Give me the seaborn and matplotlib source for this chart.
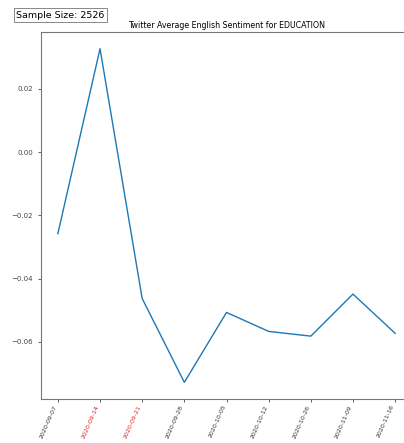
import matplotlib
matplotlib.use("Agg")
import matplotlib.pyplot as plt
import seaborn as sns
import pandas as pd

# Weekly average sentiment for the EDUCATION topic
weeks = ["2020-09-07", "2020-09-14", "2020-09-21", "2020-09-28", "2020-10-05",
         "2020-10-12", "2020-10-26", "2020-11-09", "2020-11-16"]
sentiment = [-0.0258, 0.0327, -0.0463, -0.0728, -0.0507,
             -0.0567, -0.0582, -0.0449, -0.0573]
highlight_weeks = ["2020-09-14", "2020-09-21"]
sample_size = 2526
y_ticks = [0.02, 0.00, -0.02, -0.04, -0.06]

df = pd.DataFrame({"week": weeks, "sentiment": sentiment})

fig = plt.figure(figsize=(4.04, 4.43), dpi=100)
ax = fig.add_axes([41 / 404, 1 - 399 / 443, 371 / 404, 367 / 443])

sns.lineplot(data=df, x="week", y="sentiment", ax=ax, color="#1f77b4", linewidth=1.0)

ax.set_xlabel("")
ax.set_ylabel("")
ax.set_yticks(y_ticks)
ax.set_yticklabels([f"{v:.2f}".replace("-", "\u2212") for v in y_ticks], fontsize=5)
ax.tick_params(axis="both", length=2.2, width=0.6, colors="#444444")
ax.tick_params(axis="x", labelsize=4.5, pad=1.5)
for lbl in ax.get_xticklabels():
    lbl.set_rotation(66)
    lbl.set_ha("right")
    lbl.set_color("#d62728" if lbl.get_text() in highlight_weeks else "#333333")

for sp in ax.spines.values():
    sp.set_color("#777777")
    sp.set_linewidth(0.8)

ax.set_title("Twitter Average English Sentiment for EDUCATION", fontsize=5.7, pad=3)

fig.text(16 / 404, 1 - 15 / 443, f"Sample Size: {sample_size}", fontsize=6.8,
         va="center", ha="left",
         bbox=dict(boxstyle="square,pad=0.25", facecolor="white",
                   edgecolor="#888888", linewidth=0.7))

fig.savefig("out.png", dpi=100)
